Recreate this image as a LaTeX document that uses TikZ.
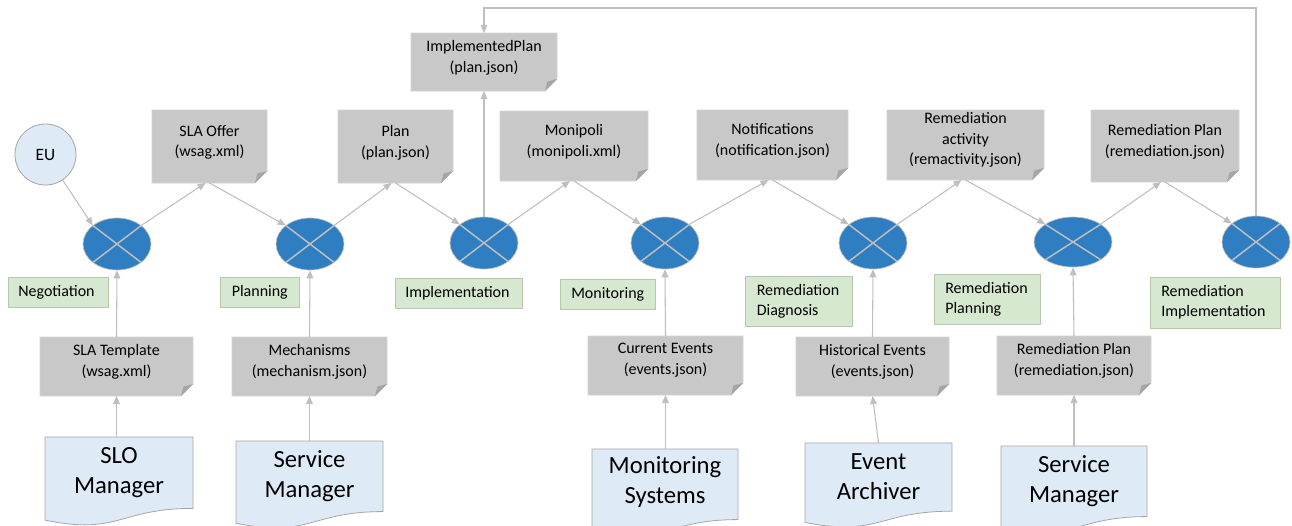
\documentclass[tikz,border=0pt]{standalone}
\usepackage{fontspec}
\setmainfont{Carlito}
\usetikzlibrary{arrows.meta,calc,fit,shapes.geometric}
\definecolor{lnk}{HTML}{BFBFBF}
\definecolor{grayfill}{HTML}{C8C8C8}
\definecolor{grayedge}{HTML}{D4D4D4}
\definecolor{foldcol}{HTML}{A5A5A5}
\definecolor{jblue}{HTML}{2E7EC1}
\definecolor{docblue}{HTML}{DEEBF7}
\definecolor{docedge}{HTML}{A6A6A6}
\definecolor{greenfill}{HTML}{D6E8CF}
\definecolor{greenedge}{HTML}{B5C8AC}

\newcommand{\grayfold}[7]{%
  \node[boxfit, fit={(#2,#3)(#4,#5)}] (#1) {};
  \filldraw[fill=grayfill, draw=grayedge, line width=0.5pt] (#1.north west) -- (#1.north east) -- ($(#1.south east)+(0,-12)$) -- ($(#1.south east)+(-12,0)$) -- (#1.south west) -- cycle;
  \fill[foldcol] ($(#1.south east)+(0,-12)$) -- ($(#1.south east)+(-12,0)$) -- ($(#1.south east)+(-9.5,-9.5)$) -- cycle;
  \node[graytxt] (#1-t) at ($(#1.center)+(0,#6)$) {#7};
}
\newcommand{\bluedoc}[7]{%
  \node[boxfit, fit={(#2,#3)(#4,#5)}] (#1) {};
  \filldraw[fill=docblue, draw=docedge, line width=0.6pt] (#1.north west) -- (#1.north east) -- ($(#1.north east)!0.802!(#1.south east)$) .. controls ($(#1.north)!0.802!(#1.south)$) and ($(#1.north)!1.107!(#1.south)$) .. ($(#1.north west)!0.934!(#1.south west)$) -- cycle;
  \node[bigtxt] (#1-t) at ($(#1.north)+(0,#6)$) {#7};
}
\newcommand{\greenlab}[7]{%
  \node[greenbox, fit={(#2,#3)(#4,#5)}] (#1) {};
  \node[greentxt] (#1-t) at ($(#1.west)+(#6,0)$) {#7};
}

\begin{document}
\begin{tikzpicture}[x=0.75pt,y=-0.75pt,
  boxfit/.style={inner sep=0pt, outer sep=0pt, draw=none},
  greenbox/.style={inner sep=0pt, outer sep=0pt, fill=greenfill, draw=greenedge, line width=0.5pt},
  graytxt/.style={font=\fontsize{12}{15.5}\selectfont, align=center, inner sep=0pt},
  greentxt/.style={font=\fontsize{12}{15}\selectfont, align=left, inner sep=0pt, anchor=west},
  bigtxt/.style={font=\fontsize{18.5}{22.5}\selectfont, align=center, inner sep=0pt},
  junction/.style={ellipse, draw=lnk, line width=0.5pt, fill=jblue, minimum width=51pt, minimum height=39pt, inner sep=0pt,
    path picture={\draw[lnk, line width=1.1pt] (path picture bounding box.north west) -- (path picture bounding box.south east) (path picture bounding box.north east) -- (path picture bounding box.south west);}},
  eunode/.style={circle, draw=docedge, line width=0.6pt, fill=docblue, minimum size=45.75pt, inner sep=0pt, font=\fontsize{13}{15}\selectfont},
  arr/.style={draw=lnk, line width=0.8pt, -{Triangle[length=6pt,width=5pt]}}
]
\useasboundingbox (0,0) rectangle (1292,525);
\fill[white] (0,0) rectangle (1292,525);

% top gray boxes
\grayfold{implan}{411}{33}{557}{91}{-4}{ImplementedPlan\\(plan.json)}
\grayfold{slaoffer}{152}{110}{267}{183}{-4}{SLA Offer\\(wsag.xml)}
\grayfold{plan}{338}{110}{453}{183}{-4}{Plan\\(plan.json)}
\grayfold{monipoli}{500}{111}{648}{181}{-4}{Monipoli\\(monipoli.xml)}
\grayfold{notif}{697}{110}{848}{180}{-4}{Notifications\\(notification.json)}
\grayfold{remact}{887}{110}{1044}{180}{-5}{Remediation\\activity\\(remactivity.json)}
\grayfold{remplan}{1091}{110}{1239}{182}{-4}{Remediation Plan\\(remediation.json)}

% bottom gray boxes
\grayfold{slatpl}{40}{337}{193}{396}{-5}{SLA Template\\(wsag.xml)}
\grayfold{mech}{232}{337}{387}{396}{-5}{Mechanisms\\(mechanism.json)}
\grayfold{curev}{588}{336}{743}{395}{-5}{Current Events\\(events.json)}
\grayfold{histev}{796}{337}{949}{396}{-5}{Historical Events\\(events.json)}
\grayfold{remplanb}{997}{336}{1151}{395}{-5}{Remediation Plan\\(remediation.json)}

% documents
\bluedoc{slo}{45}{437}{193}{526}{36}{SLO\\Manager}
\bluedoc{sm1}{236}{441}{383}{529}{35}{Service\\Manager}
\bluedoc{monsys}{592}{449}{738}{537}{33}{Monitoring\\Systems}
\bluedoc{evarch}{805}{443}{952}{528}{33.5}{Event\\Archiver}
\bluedoc{sm2}{1001}{446}{1147}{534}{35}{Service\\Manager}

% green labels
\greenlab{lneg}{8}{277}{108}{307}{10}{Negotiation}
\greenlab{lplan}{220}{277}{299}{307}{11.5}{Planning}
\greenlab{limpl}{395}{278}{522}{308}{10}{Implementation}
\greenlab{lmon}{560}{279}{655}{309}{11}{Monitoring}
\greenlab{ldiag}{745}{276}{852}{326}{11.5}{Remediation\\Diagnosis}
\greenlab{lrplan}{934}{274}{1040}{324}{11}{Remediation\\Planning}
\greenlab{lrimpl}{1150}{277}{1280}{328}{11}{Remediation\\Implementation}

% junctions
\node[junction] (e1) at (117,244) {};
\node[junction] (e2) at (310,244) {};
\node[junction] (e3) at (484,243) {};
\node[junction] (e4) at (665,243) {};
\node[junction] (e5) at (873,243) {};
\node[junction, minimum width=58.5pt, minimum height=37.5pt] (e6) at (1073,242) {};
\node[junction] (e7) at (1256,242) {};

\node[eunode] (eu) at (45.5,154.5) {EU};

% main chain
\draw[arr] (eu) -- (e1.north west);
\draw[arr] (e1.north east) -- ($(slaoffer.south)+(-4,0)$);
\draw[arr] (slaoffer.south) -- (e2.north west);
\draw[arr] (e2.north east) -- ($(plan.south)+(-4,0)$);
\draw[arr] (plan.south) -- (e3.north west);
\draw[arr] (e3.north) -- (implan.south);
\draw[arr] (e3.north east) -- ($(monipoli.south)+(-4,0)$);
\draw[arr] (monipoli.south) -- (e4.north west);
\draw[arr] (e4.north east) -- ($(notif.south)+(-4,0)$);
\draw[arr] (notif.south) -- (e5.north west);
\draw[arr] (e5.north east) -- ($(remact.south)+(-4,0)$);
\draw[arr] (remact.south) -- (e6.north west);
\draw[arr] (e6.north east) -- ($(remplan.south)+(-4,0)$);
\draw[arr] (remplan.south) -- (e7.north west);
\coordinate (loopR) at (1257,8);
\coordinate (loopL) at (485,8);
\draw[arr] (e7.north) -- (e7.north |- loopR) -- (implan.north |- loopL) -- (implan.north);

% inputs from below
\draw[arr] (slatpl.north) -- (e1.south);
\draw[arr] (slatpl.south |- slo.north) -- (slatpl.south);
\draw[arr] (mech.north) -- (e2.south);
\draw[arr] (mech.south |- sm1.north) -- (mech.south);
\draw[arr] (curev.north) -- (e4.south);
\draw[arr] (curev.south |- monsys.north) -- (curev.south);
\draw[arr] (histev.north) -- (e5.south);
\draw[arr] (evarch.north) -- (histev.south);
\draw[arr] (remplanb.north) -- (e6.south);
\draw[arr] (remplanb.south |- sm2.north) -- (remplanb.south);
\end{tikzpicture}
\end{document}
